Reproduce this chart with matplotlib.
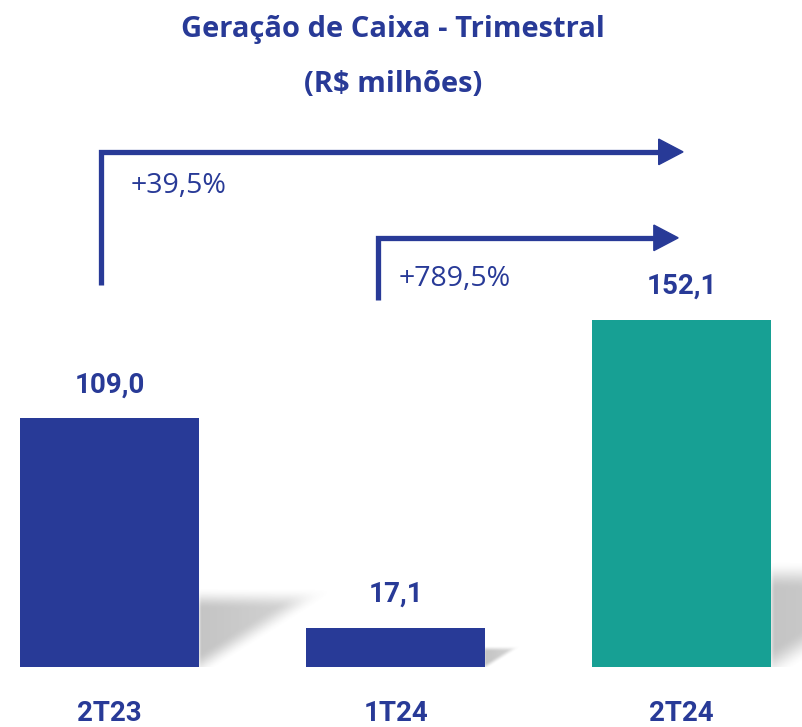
import numpy as np
import matplotlib
matplotlib.use("Agg")
import matplotlib.pyplot as plt
from matplotlib.patches import Polygon
from matplotlib import font_manager

# data
categories = ["2T23", "1T24", "2T24"]
values = [109.0, 17.1, 152.1]
value_labels = ["109,0", "17,1", "152,1"]
bar_colors = ["#283A97", "#283A97", "#17A094"]
growth_labels = ["+39,5%", "+789,5%"]

BLUE = "#283A97"

names = {f.name for f in font_manager.fontManager.ttflist}
num_font = "Liberation Sans Narrow" if "Liberation Sans Narrow" in names else "Roboto"

fig = plt.figure(figsize=(8.02, 7.27), dpi=100)
ax = fig.add_axes([0, 0, 1, 1])
ax.axis("off")

x = np.arange(len(categories))
bw = 0.626


def smooth(t):
    t = np.clip(t, 0, 1)
    return t * t * (3 - 2 * t)


# soft blurred shadows lying to the right of each bar
for xi, v in zip(x, values):
    H = 0.25 * v + 4            # data units
    W = 1.6 * H * 2.28 / 286    # x units
    x0 = xi + bw / 2
    gx = np.linspace(x0 - 0.01, x0 + W * 1.4, 200)
    gy = np.linspace(0, H * 1.35, 160)
    X, Y = np.meshgrid(gx, gy)
    u = (X - x0) / W
    vv = Y / H
    a = smooth((vv - u) / 0.35 + 0.45) * smooth((1 - vv) / 0.3 + 0.35)
    a *= smooth(u / 0.05 + 0.5) * (1 - 0.3 * np.clip(u, 0, 1))
    rgba = np.zeros(X.shape + (4,))
    rgba[..., :3] = 0.45
    rgba[..., 3] = 0.42 * a
    ax.imshow(rgba, extent=(gx[0], gx[-1], gy[0], gy[-1]), origin="lower",
              aspect="auto", zorder=1, interpolation="bilinear")

ax.set_xlim(-0.383, 2.421)
ax.set_ylim(-26.3, 292.5)

ax.bar(x, values, width=bw, color=bar_colors, zorder=2)

for xi, v, lab in zip(x, values, value_labels):
    ax.text(xi, v + 14.8, lab, ha="center", va="center", fontsize=20,
            fontweight="bold", color=BLUE, family=num_font)
for xi, c in zip(x, categories):
    ax.text(xi, -20.3, c, ha="center", va="center", fontsize=20,
            fontweight="bold", color=BLUE, family=num_font)


# growth arrows
def bracket(x0, y0, y1, x1, label, lx, ly):
    ax.plot([x0, x0, x1 - 0.075], [y0, y1, y1], color=BLUE, lw=3.8,
            solid_joinstyle="miter", solid_capstyle="butt", zorder=3)
    ax.add_patch(Polygon([(x1 - 0.085, y1 + 5.6), (x1, y1), (x1 - 0.085, y1 - 5.6)],
                         closed=True, color=BLUE, zorder=3))
    ax.text(lx, ly, label, ha="left", va="center", fontsize=20.5,
            color=BLUE, family="Open Sans")


bracket(-0.030, 167.5, 225.9, 2.005, growth_labels[0], 0.072, 211)
bracket(0.939, 161.0, 188.2, 1.988, growth_labels[1], 1.009, 170)

fig.text(0.49, 1 - 30 / 727, "Geração de Caixa - Trimestral", ha="center",
         va="center", fontsize=21, fontweight="bold", color=BLUE, family="Open Sans")
fig.text(0.49, 1 - 84 / 727, "(R$ milhões)", ha="center", va="center",
         fontsize=21, fontweight="bold", color=BLUE, family="Open Sans")

fig.savefig("out.png", dpi=100)
